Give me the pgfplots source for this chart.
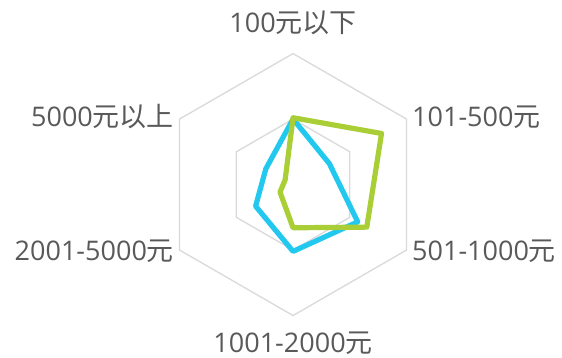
\documentclass[border=0pt]{standalone}
\usepackage{fontspec}
\setmainfont{Open Sans}
\newfontfamily\cjk{Noto Sans CJK SC}
\usepackage{pgfplots}
\pgfplotsset{compat=1.18}

\definecolor{gridgray}{HTML}{D9D9D9}
\definecolor{labelgray}{HTML}{595959}
\definecolor{skyblue}{HTML}{22C8EE}
\definecolor{limegreen}{HTML}{AACE36}

\tikzset{cat/.style={text=labelgray, font=\fontsize{27bp}{32bp}\selectfont, inner sep=0pt}}

\begin{document}
\begin{tikzpicture}
\useasboundingbox (0,0) rectangle (562bp,358bp);
\begin{axis}[
    at={(0,0)}, anchor=south west,
    x=131bp, y=131bp,
    xmin=-2.237, xmax=2.053, ymin=-1.324, ymax=1.408,
    enlargelimits=false,
    hide axis, clip=false,
]
    % grid rings (50% and 100%)
    \addplot[gridgray, line width=1.3bp, data cs=polar, mark=none]
      coordinates {(90,0.5) (30,0.5) (-30,0.5) (-90,0.5) (210,0.5) (150,0.5)} --cycle;
    \addplot[gridgray, line width=1.3bp, data cs=polar, mark=none]
      coordinates {(90,1) (30,1) (-30,1) (-90,1) (210,1) (150,1)} --cycle;

    % series
    \addplot[skyblue, line width=5.2bp, line join=round, data cs=polar, mark=none]
      coordinates {(90,0.50) (30,0.32) (-30,0.57) (-90,0.51) (210,0.33) (150,0.24)} --cycle;
    \addplot[limegreen, line width=5.2bp, line join=round, data cs=polar, mark=none]
      coordinates {(90,0.51) (30,0.78) (-30,0.65) (-90,0.33) (210,0.115) (150,0.07)} --cycle;

    % category labels
    \node[cat, anchor=base] at (axis cs:0,1.162) {100{\cjk 元以下}};
    \node[cat, anchor=base west] at (axis cs:0.908,0.441) {101-500{\cjk 元}};
    \node[cat, anchor=base west] at (axis cs:0.908,-0.580) {501-1000{\cjk 元}};
    \node[cat, anchor=base] at (axis cs:0,-1.280) {1001-2000{\cjk 元}};
    \node[cat, anchor=base east] at (axis cs:-0.908,-0.580) {2001-5000{\cjk 元}};
    \node[cat, anchor=base east] at (axis cs:-0.908,0.441) {5000{\cjk 元以上}};
\end{axis}
\end{tikzpicture}
\end{document}
